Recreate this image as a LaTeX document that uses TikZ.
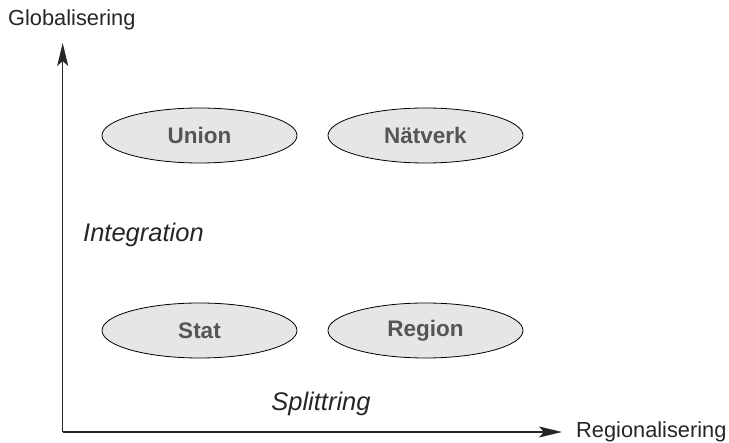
\documentclass[tikz,border=0pt]{standalone}
\usepackage{fontspec}
\setmainfont{Liberation Sans}
\usetikzlibrary{arrows.meta,shapes.geometric}
\definecolor{ellfill}{HTML}{E6E6E6}
\definecolor{labgrey}{HTML}{555555}
\tikzset{
  oval/.style={ellipse, draw=black, line width=0.8pt, fill=ellfill,
    minimum width=195pt, minimum height=55pt, inner sep=0pt,
    font=\fontsize{22.5}{26}\selectfont\bfseries, text=labgrey},
  axis/.style={line width=1.3pt, draw=black!85,
    -{Stealth[length=23pt,width=11pt,inset=5pt]}},
  axlabel/.style={font=\fontsize{21.8}{26}\selectfont, text=black!85, inner sep=0pt},
  itlabel/.style={font=\fontsize{25.5}{30}\selectfont\itshape, text=black!85, inner sep=0pt}
}
\begin{document}
\begin{tikzpicture}[x=1pt,y=-1pt]
\useasboundingbox (0,0) rectangle (729,443);
\coordinate (origin) at (62.7,432);
\coordinate (ytip) at (62.7,43);
\coordinate (xtip) at (562,432);
\draw[axis] (origin) -- (ytip);
\draw[axis] (origin) -- (xtip);
\node[axlabel, anchor=west] (glob) at (8,20) {Globalisering};
\node[axlabel, anchor=west] (reg) at (576,432) {Regionalisering};
\node[oval] (union) at (199.5,135.5) {Union};
\node[oval] (natverk) at (425.5,135.5) {Nätverk};
\node[oval] (stat) at (199.5,330.5) {Stat};
\node[oval] (region) at (425.5,330.5) {Region};
\node[itlabel, anchor=west] (integ) at (83,235) {Integration};
\node[itlabel] (split) at (321,404) {Splittring};
\end{tikzpicture}
\end{document}
